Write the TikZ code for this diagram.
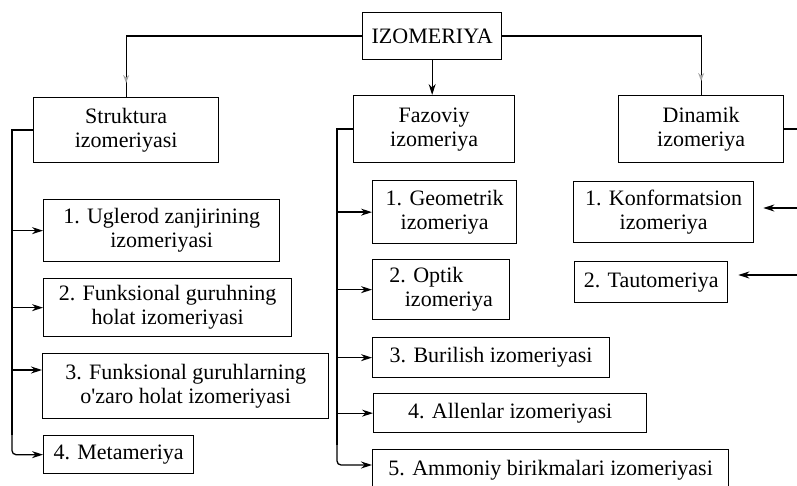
\documentclass[tikz,border=0pt]{standalone}
\usepackage{fontspec}
\setmainfont{Liberation Serif}
\usetikzlibrary{arrows.meta,decorations.markings}
\begin{document}
\begin{tikzpicture}[x=1pt,y=-1pt,
  box/.style={draw, line width=1.3pt, inner sep=0pt, anchor=north west, align=center,
    font=\fontsize{22}{24}\selectfont},
  conn/.style={line width=1.3pt},
  arr/.style={line width=1.3pt, -{Stealth[length=11pt,width=7pt]}},
  midarrow/.style={postaction={decorate}, decoration={markings,
    mark=at position -14pt with {\arrow[gray!70]{Stealth[length=8pt,width=6pt]}}}},
]
\useasboundingbox (0,0) rectangle (797,486);
\begin{scope}
\clip (0,0) rectangle (797,486);
% top
\node[box, minimum width=139pt, minimum height=47pt] (top) at (362,12) {IZOMERIYA};
% second level
\node[box, minimum width=185pt, minimum height=65pt] (struct) at (33,97) {Struktura\\izomeriyasi};
\node[box, minimum width=161pt, minimum height=67pt] (faz) at (353,95) {Fazoviy\\izomeriya};
\node[box, minimum width=165pt, minimum height=67pt] (din) at (618,95) {Dinamik\\izomeriya};
% left column
\node[box, minimum width=236pt, minimum height=62pt] (L1) at (43,199) {1. Uglerod zanjirining\\izomeriyasi};
\node[box, minimum width=248pt, minimum height=58pt] (L2) at (43,278) {2. Funksional guruhning\\holat izomeriyasi};
\node[box, minimum width=286pt, minimum height=65pt] (L3) at (42,353) {3. Funksional guruhlarning\\o\textquotesingle zaro holat izomeriyasi};
\node[box, minimum width=150pt, minimum height=38pt] (L4) at (43,435) {4. Metameriya};
% middle column
\node[box, minimum width=144pt, minimum height=63pt] (M1) at (372,180) {1. Geometrik\\izomeriya};
\node[box, minimum width=137pt, minimum height=60pt, align=left] (M2) at (372,259) {2. Optik\\\hspace*{0.7em}izomeriya};
\node[box, minimum width=237pt, minimum height=40pt] (M3) at (372,337) {3. Burilish izomeriyasi};
\node[box, minimum width=273pt, minimum height=39pt] (M4) at (373,393) {4. Allenlar izomeriyasi};
\node[box, minimum width=356pt, minimum height=42pt] (M5) at (372,449) {\raisebox{5pt}{5. Ammoniy birikmalari izomeriyasi}};
% right column
\node[box, minimum width=180pt, minimum height=61pt] (R1) at (573,181) {1. Konformatsion\\izomeriya};
\node[box, minimum width=153pt, minimum height=41pt] (R2) at (574,261) {2. Tautomeriya};

% top connectors
\draw[conn, midarrow] (top.west) -| (struct.north);
\draw[arr] (top.south) -- (top.south |- faz.north);
\draw[conn, midarrow] (top.east) -| (din.north);

% left bus
\coordinate (sx) at (12,0);
\draw[conn] (struct.west) -- (sx |- struct.west) -- ([yshift=20pt]sx |- L4.west);
\draw[arr, rounded corners=4pt] ([yshift=20pt]sx |- L4.west) -- (sx |- L4.west) -- (L4.west);
\draw[arr] (sx |- L1.west) -- (L1.west);
\draw[arr] (sx |- L2.west) -- (L2.west);
\coordinate (a3) at (12,370);
\draw[arr] (a3) -- (a3 -| L3.west);

% middle bus
\coordinate (mx) at (337,0);
\coordinate (m5) at (337,465);
\draw[conn] (faz.west) -- (mx |- faz.west) -- ([yshift=20pt]m5);
\draw[arr, rounded corners=4pt] ([yshift=20pt]m5) -- (m5) -- (m5 -| M5.west);
\draw[arr] (mx |- M1.west) -- (M1.west);
\draw[arr] (mx |- M2.west) -- (M2.west);
\draw[arr] (mx |- M3.west) -- (M3.west);
\draw[arr] (mx |- M4.west) -- (M4.west);

% right side
\coordinate (rx) at (797,0);
\draw[conn] (din.east) -- (rx |- din.east);
\coordinate (r1) at (797,208);
\coordinate (r2) at (797,275);
\draw[arr, shorten >=9pt] (r1) -- (r1 -| R1.east);
\draw[arr, shorten >=10pt] (r2) -- (r2 -| R2.east);
\end{scope}
\end{tikzpicture}
\end{document}
